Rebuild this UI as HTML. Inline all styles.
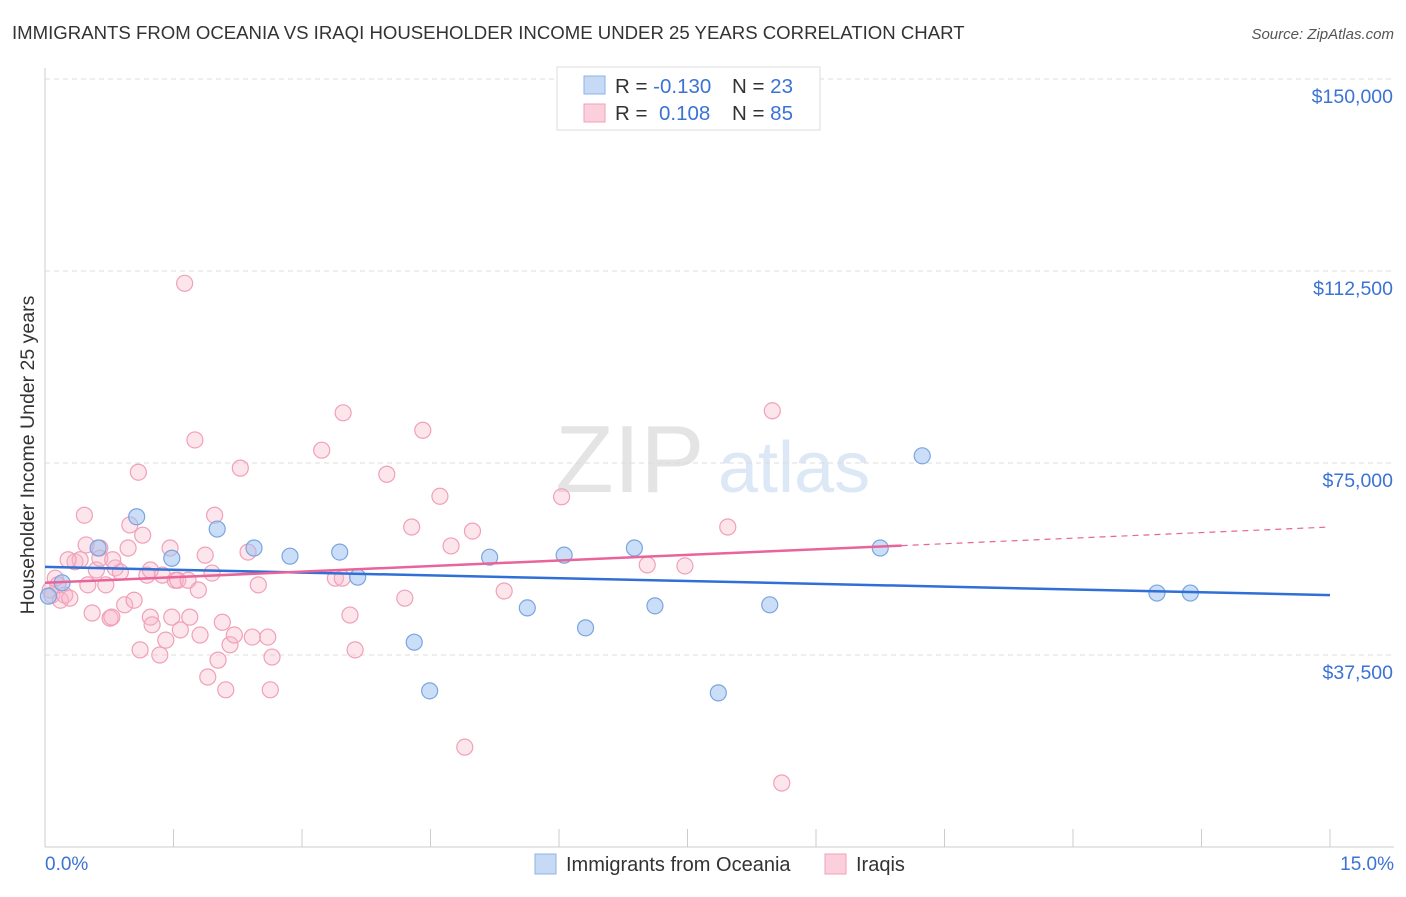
<!DOCTYPE html>
<html><head><meta charset="utf-8"><style>
body{margin:0;background:#fff;font-family:"Liberation Sans",sans-serif;}
svg text{font-family:"Liberation Sans",sans-serif;}
</style></head><body>
<svg id="c" width="1406" height="892">
<text x="12" y="39" font-size="18.6" fill="#333">IMMIGRANTS FROM OCEANIA VS IRAQI HOUSEHOLDER INCOME UNDER 25 YEARS CORRELATION CHART</text>
<text x="1394" y="39" font-size="15" fill="#555" font-style="italic" text-anchor="end">Source: ZipAtlas.com</text>
<text x="555" y="492" font-size="96" fill="#e4e4e4" font-family="Liberation Serif">ZIP</text>
<text x="718" y="492" font-size="72" fill="#dce8f5">atlas</text>
<g id="grid"></g><g id="pts"></g><g id="trend"></g>
<text transform="translate(34,455) rotate(-90)" font-size="19.5" fill="#333" text-anchor="middle">Householder Income Under 25 years</text>
<text x="45" y="870" font-size="19" fill="#3b73d4">0.0%</text>
<text x="1394" y="870" font-size="19" fill="#3b73d4" text-anchor="end">15.0%</text>
<g>
<rect x="557" y="67" width="263" height="63" fill="#fff" stroke="#ddd"/>
<rect x="584" y="76" width="21" height="18" fill="#c6d9f5" stroke="#8fb2e8"/>
<rect x="584" y="104" width="21" height="18" fill="#fbd0dc" stroke="#f0a0b8"/>
<text x="615" y="93" font-size="20.5" fill="#333">R = <tspan fill="#3b73d4">-0.130</tspan><tspan x="732">N = </tspan><tspan fill="#3b73d4">23</tspan></text>
<text x="615" y="120" font-size="20.5" fill="#333">R = <tspan x="659" fill="#3b73d4">0.108</tspan><tspan x="732">N = </tspan><tspan fill="#3b73d4">85</tspan></text>
</g>
<g>
<rect x="535" y="854" width="21" height="20" fill="#c6d9f5" stroke="#8fb2e8"/>
<text x="566" y="871" font-size="20" fill="#333">Immigrants from Oceania</text>
<rect x="825" y="854" width="21" height="20" fill="#fbd0dc" stroke="#f0a0b8"/>
<text x="856" y="871" font-size="20" fill="#333">Iraqis</text>
</g>
</svg>
<script>
const yTicks=[37500,75000,112500,150000];
const yTickLabels=["$37,500","$75,000","$112,500","$150,000"];
const xTicks=[0,1.5,3,4.5,6,7.5,9,10.5,12,13.5,15];
const blueX=[0.04,0.20,0.62,1.07,1.48,2.01,2.44,2.86,3.44,3.65,4.31,4.49,5.19,5.63,6.06,6.31,6.88,7.12,7.86,8.46,9.75,10.24,12.98,13.37];
const blueY=[49.0,51.6,58.4,64.5,56.4,62.1,58.4,56.8,57.6,52.7,40.0,30.5,56.6,46.7,57.0,42.8,58.4,47.1,30.1,47.3,58.4,76.4,49.6,49.6];
const pinkX=[0.06,0.12,0.08,0.18,0.23,0.29,0.35,0.41,0.46,0.48,0.50,0.55,0.60,0.64,0.64,0.71,0.76,0.78,0.82,0.88,0.93,0.97,0.99,1.04,1.09,1.11,1.14,1.19,1.23,1.25,1.34,1.37,1.41,1.46,1.48,1.52,1.55,1.58,1.63,1.69,1.75,1.79,1.81,1.90,1.95,1.98,2.02,2.07,2.11,2.16,2.21,2.28,2.37,2.42,2.49,2.60,2.63,2.65,3.23,3.39,3.48,3.56,3.62,3.99,4.20,4.28,4.41,4.61,4.74,4.90,4.99,5.36,6.03,7.03,7.47,7.97,8.49,8.60,0.79,0.15,0.27,1.23,1.67,1.87,3.47];
const pinkY=[50.2,52.5,49.2,48.2,49.2,48.6,55.7,56.1,64.8,59.0,51.2,45.7,54.1,58.4,56.4,51.2,44.7,44.9,54.5,53.7,47.3,58.4,62.9,48.2,73.2,38.5,60.9,53.1,44.9,43.4,37.5,53.1,40.4,58.4,44.9,52.1,52.1,42.4,110.1,44.9,79.5,50.2,41.4,33.2,53.5,64.8,36.5,43.9,30.7,39.5,41.4,74.0,57.6,41.0,51.2,41.0,30.7,37.1,77.5,52.5,84.8,45.3,38.5,72.8,48.6,62.5,81.4,68.5,58.8,19.5,61.7,50.0,68.4,55.1,54.9,62.5,85.2,12.5,56.1,51.2,56.1,54.1,52.1,57.0,52.5];
const blueTrend=[54.7,49.2];
const pinkTrend=[51.6,62.5];
const pinkSolidEnd=10.0;
const NS="http://www.w3.org/2000/svg";
const X=v=>45+v*1285/15, Y=v=>847-v*192/37500;
function mk(t,a,p){const e=document.createElementNS(NS,t);for(const k in a)e.setAttribute(k,a[k]);p.appendChild(e);return e;}
const g=document.getElementById('grid');
const ax=mk('line',{x1:45,x2:45,y1:68,y2:847,stroke:'#ccc'},g);


const bx=mk('line',{x1:45,x2:1394,y1:847,y2:847,stroke:'#ccc'},g);


yTicks.forEach((t,i)=>{
 const l=mk('line',{x1:45,x2:1394,y1:Y(t),y2:Y(t),stroke:'#ddd','stroke-dasharray':'5,4'},g);
 
 
 const tx=mk('text',{x:1393,y:Y(t)+24,'font-size':19.5,fill:'#3b73d4','text-anchor':'end'},g);
 tx.textContent=yTickLabels[i];
 
 
});
xTicks.forEach(t=>{
 const l=mk('line',{x1:X(t),x2:X(t),y1:829,y2:847,stroke:'#ccc'},g);
 
 
});
const p=document.getElementById('pts');
pinkX.forEach((x,i)=>{
 const c=mk('circle',{cx:X(x),cy:Y(pinkY[i]*1000),r:8,fill:'rgba(248,180,200,0.35)',stroke:'#f0a0b8','stroke-width':1.2},p);
 
 
});
blueX.forEach((x,i)=>{
 const c=mk('circle',{cx:X(x),cy:Y(blueY[i]*1000),r:8,fill:'rgba(160,195,240,0.55)',stroke:'#7aa5e0','stroke-width':1.2},p);
 
 
});
const tr=document.getElementById('trend');
const bt=mk('line',{x1:X(0),x2:X(15),y1:Y(blueTrend[0]*1000),y2:Y(blueTrend[1]*1000),stroke:'#2f6fd6','stroke-width':2.5},tr);


const py=x=>pinkTrend[0]+(pinkTrend[1]-pinkTrend[0])*x/15;
const pt=mk('line',{x1:X(0),x2:X(pinkSolidEnd),y1:Y(py(0)*1000),y2:Y(py(pinkSolidEnd)*1000),stroke:'#e8649a','stroke-width':2.5},tr);


const pd=mk('line',{x1:X(pinkSolidEnd),x2:X(15),y1:Y(py(pinkSolidEnd)*1000),y2:Y(py(15)*1000),stroke:'#e8649a','stroke-width':1.2,'stroke-dasharray':'6,5'},tr);


</script>
</body></html>
